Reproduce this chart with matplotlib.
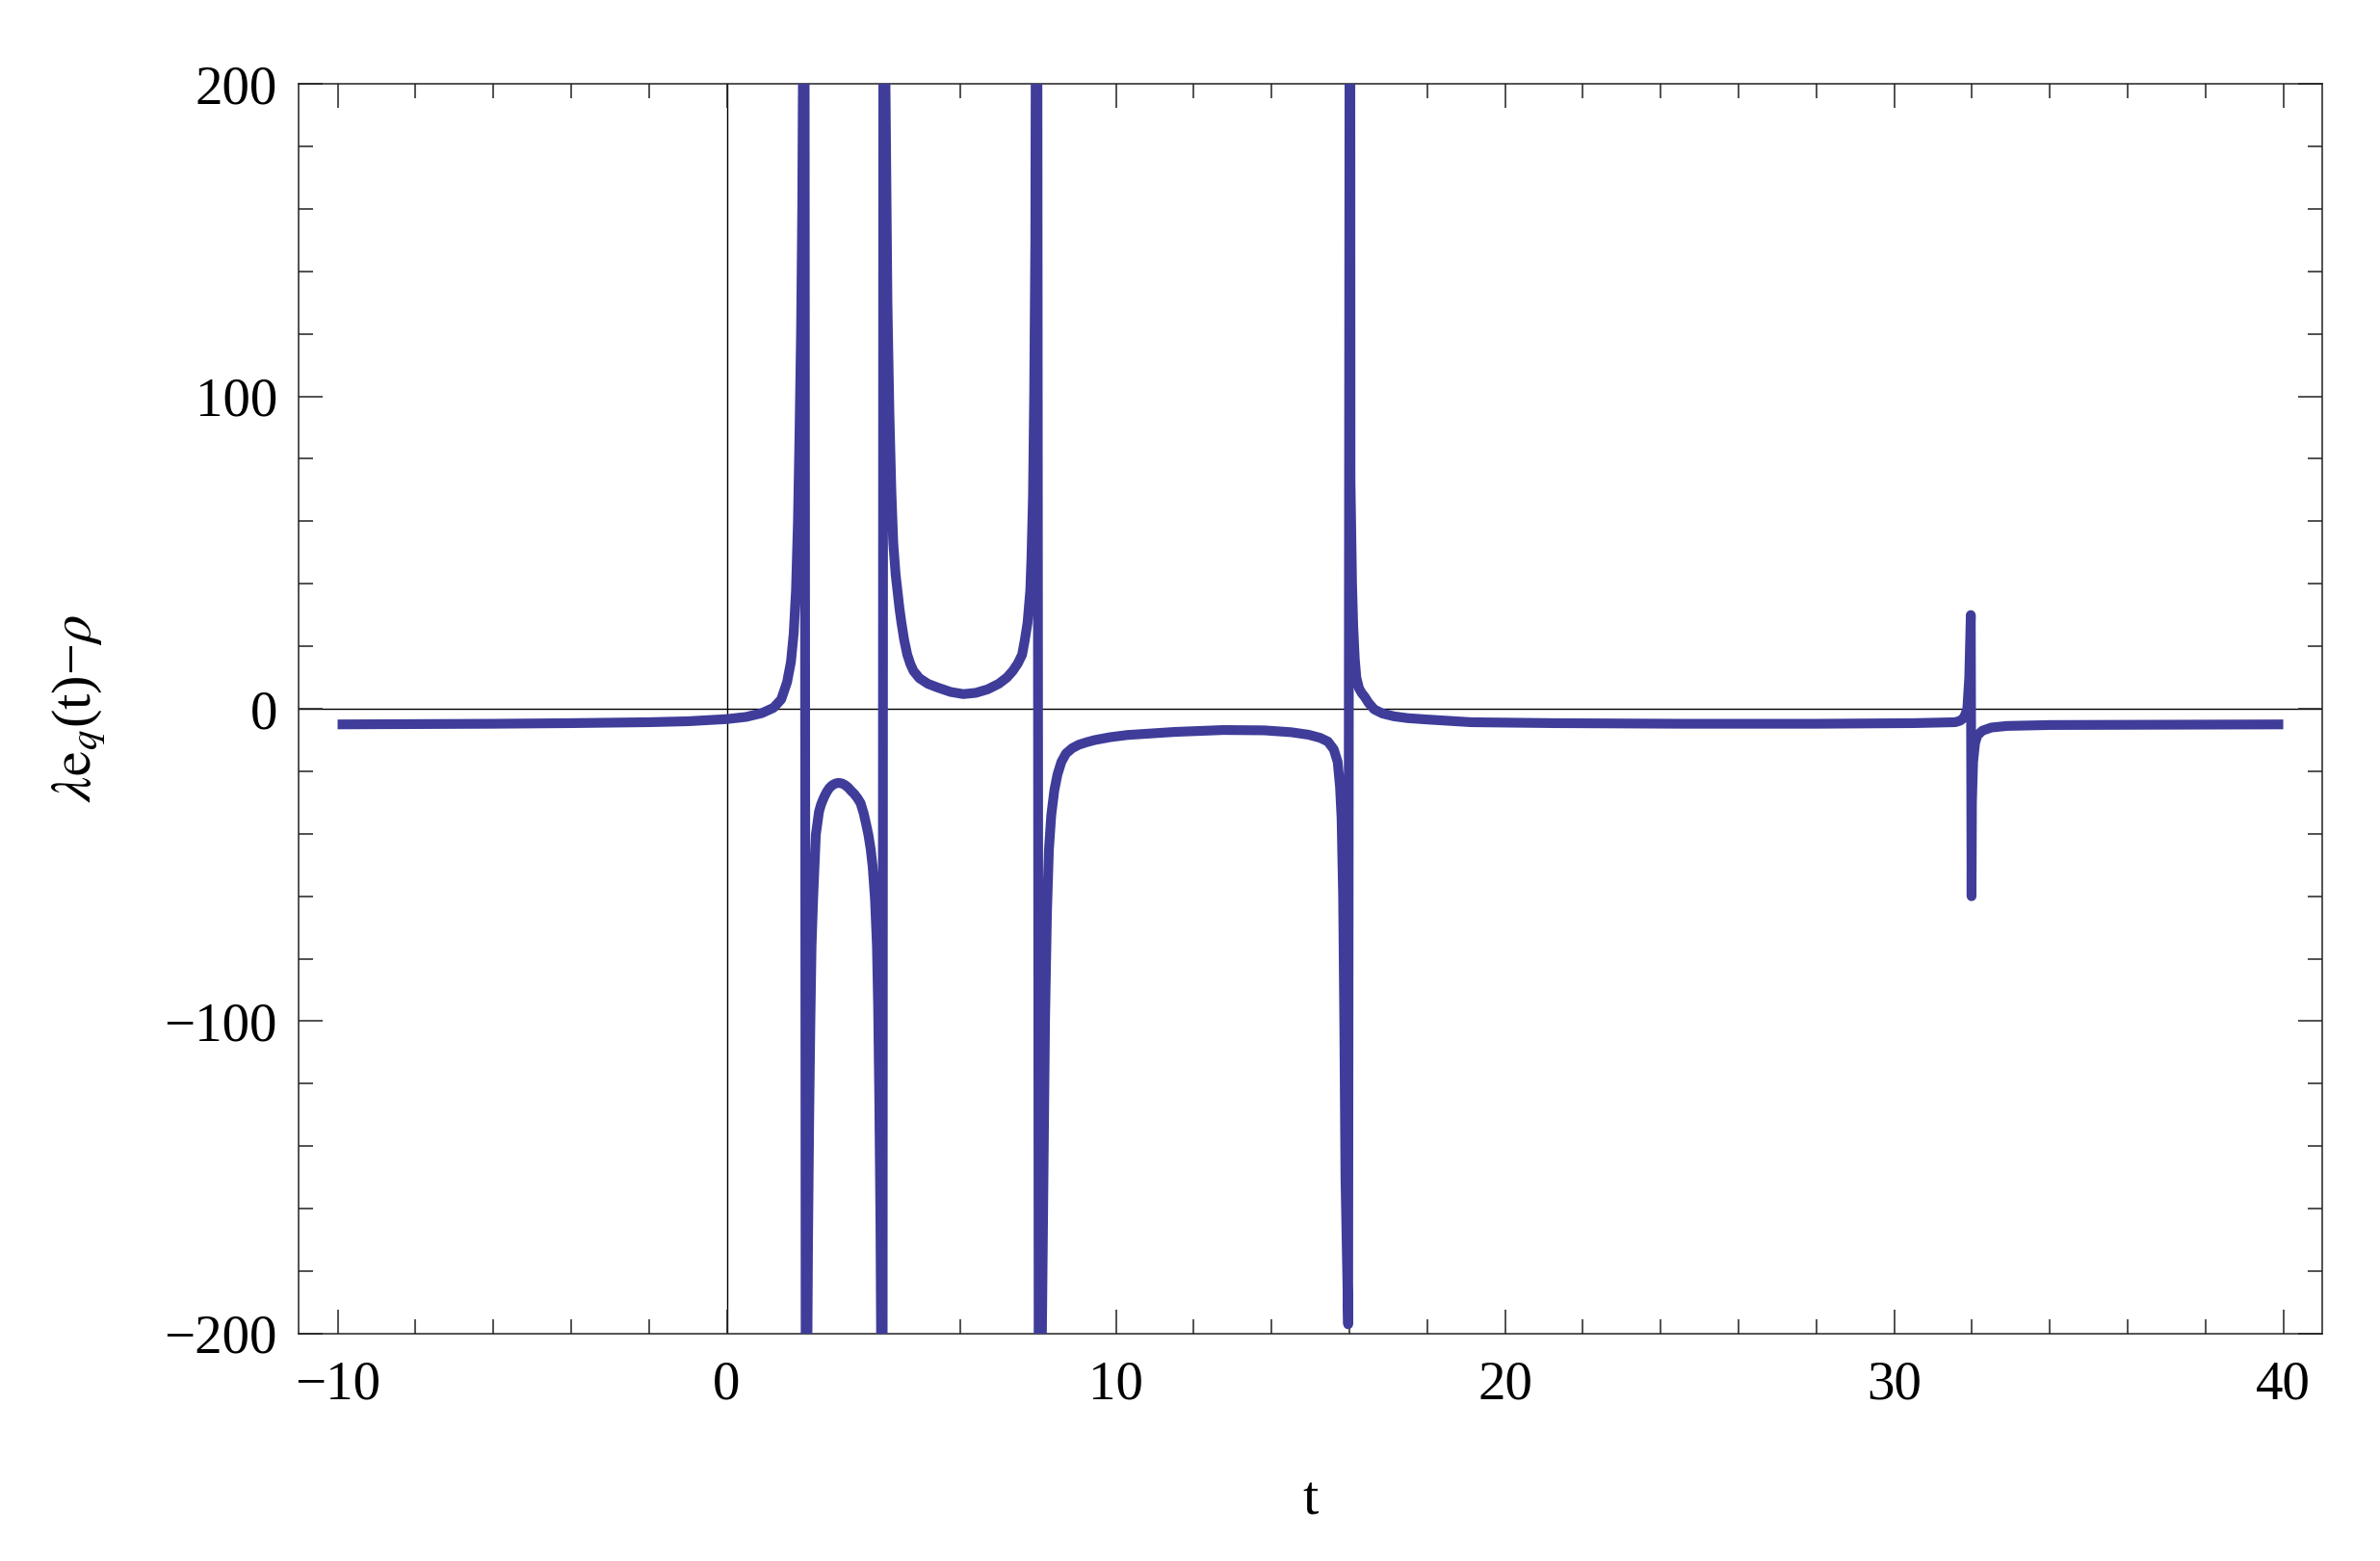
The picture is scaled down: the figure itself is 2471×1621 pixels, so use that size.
import numpy as np
import matplotlib.pyplot as plt
from matplotlib.ticker import MultipleLocator

# values, one list pair per branch between the poles
t_b1 = [-10, -8, -6, -4, -2, -1, 0, 0.5, 0.9, 1.2, 1.4, 1.55, 1.65, 1.72, 1.78, 1.83, 1.87, 1.91, 1.94, 1.97, 1.99]
y_b1 = [-5.0, -4.9, -4.8, -4.6, -4.3, -4.0, -3.3, -2.6, -1.4, 0.3, 3.0, 8.5, 15, 24, 38, 60, 88, 121, 160, 230, 400]

t_b2 = [2.04, 2.06, 2.09, 2.12, 2.15, 2.18, 2.22, 2.29, 2.37, 2.42, 2.47, 2.52, 2.58, 2.64, 2.72, 2.80, 2.88, 2.96, 3.04, 3.12, 3.20, 3.28,
        3.36, 3.44, 3.52, 3.58, 3.64, 3.70, 3.75, 3.81, 3.86, 3.89, 3.92, 3.95, 3.98, 4.0]
y_b2 = [-400, -230, -170, -130, -100, -76, -61, -40.3, -33, -30.8, -29.2, -27.8, -26.4, -25.3, -24.4, -23.9, -23.7, -23.9, -24.4, -25.2, -26.3, -27.3,
        -28.6, -30.2, -33.5, -36.8, -40.3, -45, -50.5, -61, -76, -95, -125, -165, -230, -400]

t_b3 = [4.03, 4.08, 4.13, 4.18, 4.23, 4.28, 4.34, 4.39, 4.44, 4.49, 4.56, 4.64, 4.72, 4.80, 4.95, 5.17, 5.42, 5.75, 6.08, 6.4, 6.7, 6.99,
        7.2, 7.35, 7.48, 7.59, 7.66, 7.73, 7.80, 7.83, 7.87, 7.90, 7.93, 7.97]
y_b3 = [400, 200, 130, 95, 70, 53, 43, 37.5, 32, 27.5, 22, 17.3, 14.3, 12.1, 9.8, 8.0, 6.8, 5.4, 4.7, 5.1, 6.2, 8.0,
        10, 12.1, 14.5, 17.3, 22, 27.5, 37.8, 48, 68, 100, 150, 400]

t_b4 = [8.03, 8.1, 8.14, 8.18, 8.23, 8.28, 8.34, 8.42, 8.50, 8.60, 8.72, 8.88, 9.05, 9.25, 9.46, 9.85, 10.29, 11.52, 12.76, 13.8, 14.5,
        14.95, 15.25, 15.45, 15.6, 15.7, 15.76, 15.8, 15.84, 15.87, 15.9, 15.97]
y_b4 = [-400, -200, -150, -100, -65, -45, -34, -26, -21, -17, -14.3, -12.6, -11.5, -10.7, -10, -9.1, -8.4, -7.4, -6.8, -6.9, -7.5,
        -8.3, -9.3, -10.5, -13, -17, -25, -35, -60, -100, -150, -197]

t_b5 = [16.02, 16.03, 16.07, 16.10, 16.14, 16.18, 16.25, 16.32, 16.39, 16.5, 16.64, 16.85, 17.14, 17.5, 17.96, 19.12, 21.24, 24.55, 28,
        30.5, 31.3, 31.57, 31.7, 31.8, 31.88, 31.93, 31.97]
y_b5 = [400, 73, 40, 26.5, 16, 10, 6.5, 5.0, 3.9, 1.8, -0.2, -1.5, -2.4, -3.0, -3.4, -4.3, -4.6, -4.8, -4.8,
        -4.6, -4.4, -4.3, -3.8, -2.8, 0, 10, 30]

t_b6 = [31.99, 32.0, 32.03, 32.08, 32.14, 32.27, 32.5, 32.9, 34, 37, 40]
y_b6 = [-60, -30, -17, -11, -8.5, -7, -6, -5.5, -5.2, -5.1, -5.0]

x_major = [-10, 0, 10, 20, 30, 40]
y_major = [-200, -100, 0, 100, 200]

line_color = "#3f3d99"

plt.rcParams['font.family'] = ['Liberation Serif', 'DejaVu Serif']
plt.rcParams['mathtext.fontset'] = 'stix'

fig = plt.figure(figsize=(24.71, 16.21), dpi=100)
ax = fig.add_axes([0.1255, 0.1456, 0.8502, 0.8007])

t = np.concatenate([t_b1, t_b2, t_b3, t_b4, t_b5, t_b6])
y = np.concatenate([y_b1, y_b2, y_b3, y_b4, y_b5, y_b6])

ax.axhline(0, color="black", lw=1.0, zorder=1)
ax.axvline(0, color="black", lw=1.0, zorder=1)
ax.plot(t, y, color=line_color, lw=7.3, solid_capstyle="butt", solid_joinstyle="round", zorder=3)

ax.set_xlim(-11, 41)
ax.set_ylim(-200, 200)
ax.set_xticks(x_major)
ax.set_yticks(y_major)
ax.xaxis.set_minor_locator(MultipleLocator(2))
ax.yaxis.set_minor_locator(MultipleLocator(20))
ax.tick_params(which="both", direction="in", top=True, right=True, width=1.1, color="#222222")
ax.tick_params(which="major", length=18, labelsize=41)
ax.tick_params(which="minor", length=11)
ax.tick_params(axis="x", pad=20)
ax.tick_params(axis="y", pad=16)
for s in ax.spines.values():
    s.set_linewidth(1.1)
    s.set_color("#222222")

ax.set_xlabel("t", fontsize=42, labelpad=49)
ax.set_ylabel("$\\lambda\\mathrm{e}_q$(t)\u2212$\\rho$", fontsize=42, labelpad=42)

fig.savefig("out.png", dpi=100)
